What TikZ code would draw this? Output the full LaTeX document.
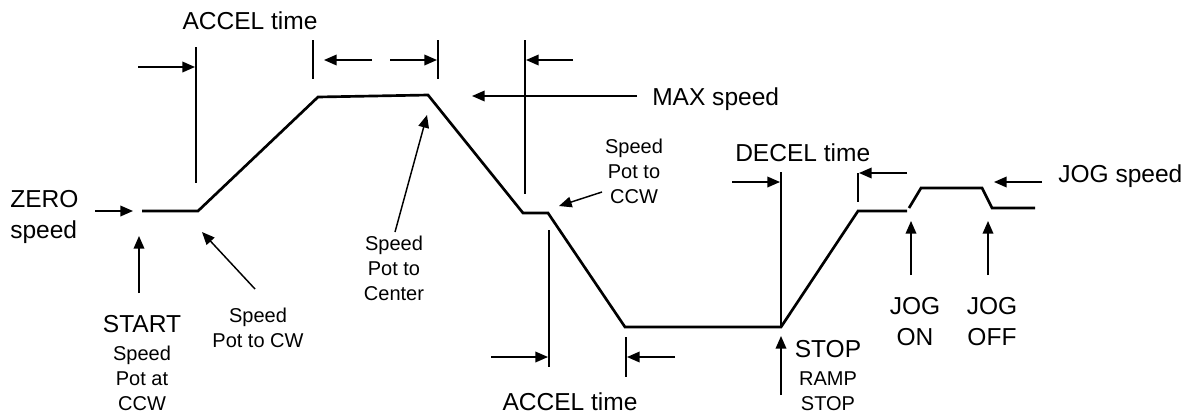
\documentclass[tikz,border=0pt]{standalone}
\usepackage{fontspec}
\setmainfont{Liberation Sans}
\usetikzlibrary{arrows.meta}
\begin{document}
\begin{tikzpicture}[x=0.75pt,y=-0.75pt,
 curve/.style={line width=2pt, line join=miter},
 thinline/.style={line width=1.1pt},
 arr/.style={thinline,-{Triangle[length=9.5pt,width=8pt]}},
 big/.style={font=\fontsize{18.4}{23}\selectfont, inner sep=0pt},
 small/.style={font=\fontsize{15}{18.75}\selectfont, inner sep=0pt},
]
\useasboundingbox (0,0) rectangle (1194,415);

% speed profile
\coordinate (p0) at (142,211);
\coordinate (p1) at (198,211);
\coordinate (p2) at (318,97);
\coordinate (p3) at (428,95);
\coordinate (p4) at (523,213);
\coordinate (p5) at (548,213);
\coordinate (p6) at (625,327);
\coordinate (p7) at (781,327);
\coordinate (p8) at (858,211);
\coordinate (p9) at (907,211);
\coordinate (p9b) at (909,208);
\coordinate (p10) at (921,188);
\coordinate (p11) at (982,188);
\coordinate (p12) at (992,208);
\coordinate (p13) at (1035,208);
\draw[curve] (p0) -- (p1) -- (p2) -- (p3) -- (p4) -- (p5) -- (p6) -- (p7) -- (p8) -- (p9);
\draw[curve] (p9b) -- (p10) -- (p11) -- (p12) -- (p13);

% texts
\node[big, anchor=base] (accTop) at (250,29) {ACCEL time};
\node[big, anchor=base west] (maxs) at (652,105) {MAX speed};
\node[big, anchor=base west] (decel) at (735,161) {DECEL time};
\node[big, anchor=base west] (jogs) at (1058,182) {JOG speed};
\node[big, anchor=north west, align=left] (zero) at (10,190) {ZERO\\speed};
\node[small, anchor=north, align=center] (start) at (142,315)
  {{\fontsize{18.4}{23}\selectfont START}\\[2.2pt]Speed\\Pot at\\CCW};
\node[small, anchor=north, align=center] (cw) at (258,308) {Speed\\Pot to CW};
\node[small, anchor=north, align=center] (center) at (394,236) {Speed\\Pot to\\Center};
\node[small, anchor=north, align=center] (ccw) at (634,139) {Speed\\Pot to\\CCW};
\node[big, anchor=base] (accBot) at (570,410) {ACCEL time};
\node[small, anchor=north, align=center] (stop) at (828,340)
  {{\fontsize{18.4}{23}\selectfont STOP}\\[2.2pt]RAMP\\STOP};
\node[big, anchor=north, align=center] (jogon) at (915,297) {JOG\\ON};
\node[big, anchor=north, align=center] (jogoff) at (992,297) {JOG\\OFF};

% marker lines and arrows
\coordinate (a1s) at (138,67);  \coordinate (a1e) at (195,67);
\coordinate (v1t) at (196,47);  \coordinate (v1b) at (196,183);
\draw[thinline] (v1t) -- (v1b);
\draw[arr] (a1s) -- (a1e);

\coordinate (v2t) at (313,40);  \coordinate (v2b) at (313,79);
\coordinate (v3t) at (438,40);  \coordinate (v3b) at (438,79);
\draw[thinline] (v2t) -- (v2b);
\draw[thinline] (v3t) -- (v3b);
\coordinate (a2s) at (372,60);  \coordinate (a2e) at (324,60);
\coordinate (a3s) at (390,60);  \coordinate (a3e) at (437,60);
\draw[arr] (a2s) -- (a2e);
\draw[arr] (a3s) -- (a3e);

\coordinate (v4t) at (525,40);  \coordinate (v4b) at (525,194);
\draw[thinline] (v4t) -- (v4b);
\coordinate (a4s) at (573,60);  \coordinate (a4e) at (526,60);
\draw[arr] (a4s) -- (a4e);

\coordinate (maxs0) at (637,96); \coordinate (maxe) at (472,96);
\draw[arr] (maxs0) -- (maxe);

\coordinate (ccws) at (602,192); \coordinate (ccwe) at (559,206);
\draw[arr] (ccws) -- (ccwe);
\coordinate (cens) at (395,232); \coordinate (cene) at (427,115);
\draw[arr] (cens) -- (cene);
\coordinate (cws) at (255,289); \coordinate (cwe) at (202,232);
\draw[arr] (cws) -- (cwe);
\coordinate (sts) at (139,293); \coordinate (ste) at (139,236);
\draw[arr] (sts) -- (ste);
\coordinate (zs) at (95,211); \coordinate (ze) at (133,211);
\draw[arr] (zs) -- (ze);

% bottom accel
\coordinate (v5t) at (549,230); \coordinate (v5b) at (549,367);
\draw[thinline] (v5t) -- (v5b);
\coordinate (a5s) at (491,357); \coordinate (a5e) at (548,357);
\draw[arr] (a5s) -- (a5e);
\coordinate (v6t) at (626,337); \coordinate (v6b) at (626,377);
\draw[thinline] (v6t) -- (v6b);
\coordinate (a6s) at (675,357); \coordinate (a6e) at (627,357);
\draw[arr] (a6s) -- (a6e);

% decel
\coordinate (v7t) at (781,172);
\draw[thinline] (v7t) -- (p7);
\coordinate (a7s) at (732,182); \coordinate (a7e) at (780,182);
\draw[arr] (a7s) -- (a7e);
\coordinate (v8t) at (858,173); \coordinate (v8b) at (858,202);
\draw[thinline] (v8t) -- (v8b);
\coordinate (a8s) at (907,173); \coordinate (a8e) at (859,173);
\draw[arr] (a8s) -- (a8e);

% jog
\coordinate (jss) at (1042,182); \coordinate (jse) at (994,182);
\draw[arr] (jss) -- (jse);
\coordinate (jons) at (911,275); \coordinate (jone) at (911,221);
\draw[arr] (jons) -- (jone);
\coordinate (joffs) at (988,275); \coordinate (joffe) at (988,221);
\draw[arr] (joffs) -- (joffe);
\coordinate (stps) at (781,395); \coordinate (stpe) at (781,336);
\draw[arr] (stps) -- (stpe);
\end{tikzpicture}
\end{document}
